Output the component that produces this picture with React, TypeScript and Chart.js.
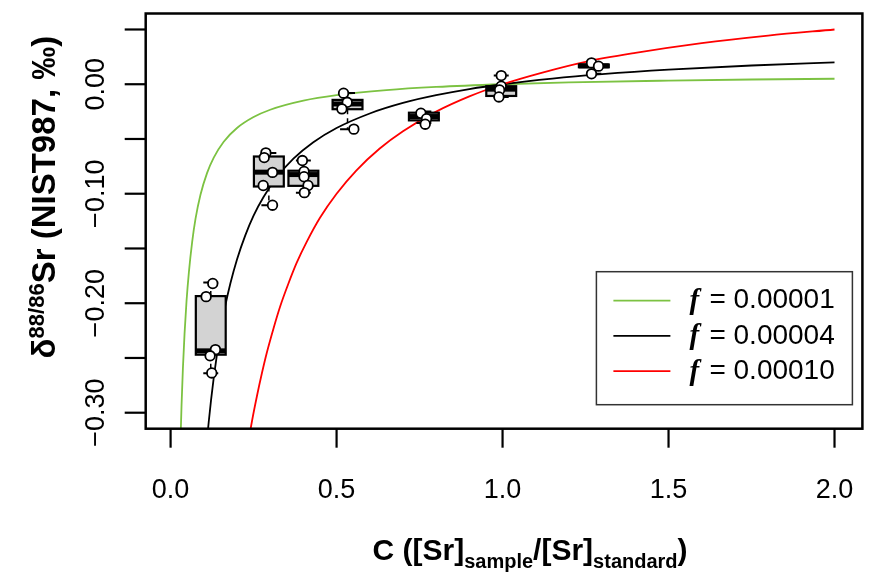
import React, { useEffect, useRef } from "react";
import { Chart, registerables } from "chart.js";

Chart.register(...registerables);

// ---- axis ticks ----
const xTicks = [0, 0.5, 1.0, 1.5, 2.0];
const xTickLabels = ["0.0", "0.5", "1.0", "1.5", "2.0"];
const yTicks = [0.05, 0.0, -0.05, -0.1, -0.15, -0.2, -0.25, -0.3];
const yTickLabels = ["", "0.00", "", "\u22120.10", "", "\u22120.20", "", "\u22120.30"];

// ---- mixing curves ----
const greenC = [0.029, 0.033, 0.037, 0.042, 0.048, 0.055, 0.065, 0.075, 0.09, 0.11, 0.13, 0.16, 0.2, 0.25, 0.3, 0.4, 0.5, 0.65, 0.8, 1.0, 1.2, 1.5, 1.75, 2.0];
const greenD = [-0.335, -0.293, -0.26, -0.228, -0.198, -0.172, -0.144, -0.123, -0.101, -0.081, -0.067, -0.0525, -0.04, -0.03, -0.0233, -0.015, -0.01, -0.0054, -0.0025, 0, 0.0017, 0.0033, 0.0043, 0.005];

const blackC = [0.108, 0.115, 0.122, 0.13, 0.14, 0.15, 0.165, 0.18, 0.2, 0.225, 0.25, 0.28, 0.32, 0.37, 0.43, 0.5, 0.6, 0.7, 0.8, 0.9, 1.0, 1.15, 1.3, 1.5, 1.75, 2.0];
const blackD = [-0.33, -0.308, -0.288, -0.268, -0.246, -0.227, -0.202, -0.182, -0.16, -0.138, -0.12, -0.103, -0.085, -0.068, -0.053, -0.04, -0.0267, -0.0171, -0.01, -0.0044, 0, 0.0052, 0.0092, 0.0133, 0.0171, 0.02];

const redC = [0.232, 0.245, 0.26, 0.275, 0.29, 0.31, 0.33, 0.355, 0.38, 0.41, 0.45, 0.5, 0.56, 0.63, 0.7, 0.8, 0.9, 1.0, 1.12, 1.25, 1.4, 1.6, 1.8, 2.0];
const redD = [-0.331, -0.308, -0.285, -0.264, -0.245, -0.223, -0.203, -0.182, -0.163, -0.144, -0.122, -0.1, -0.0786, -0.0587, -0.0429, -0.025, -0.0111, 0, 0.0107, 0.0205, 0.0286, 0.0375, 0.0444, 0.05];

const legendLabels = ["0.00001", "0.00004", "0.00010"];
const curveColors = ["#7cc242", "#000000", "#ff0000"];

// ---- boxplots ----
const boxC = [0.121, 0.296, 0.4, 0.533, 0.763, 0.996, 1.275];
const boxLo = [-0.264, -0.1105, -0.099, -0.041, -0.0355, -0.0116, 0.0095];
const boxQ1 = [-0.247, -0.0934, -0.0928, -0.0228, -0.033, -0.0107, 0.0155];
const boxMed = [-0.2435, -0.0803, -0.0825, -0.018, -0.0295, -0.0045, 0.0168];
const boxQ3 = [-0.1935, -0.066, -0.079, -0.0143, -0.026, -0.0018, 0.018];
const boxHi = [-0.181, -0.0627, -0.0697, -0.008, -0.025, 0.0079, 0.0195];
const boxWidth = 0.09;

// ---- individual measurements ----
const obsC = [
  0.127, 0.107, 0.135, 0.119, 0.124,
  0.287, 0.282, 0.307, 0.279, 0.307,
  0.397, 0.402, 0.402, 0.414, 0.403,
  0.521, 0.532, 0.516, 0.552,
  0.754, 0.771, 0.767,
  0.996, 0.996, 0.991, 0.989,
  1.268, 1.289, 1.268,
];
const obsD = [
  -0.182, -0.194, -0.2424, -0.248, -0.2637,
  -0.0627, -0.067, -0.0805, -0.0925, -0.1105,
  -0.0697, -0.0797, -0.0845, -0.0925, -0.099,
  -0.0082, -0.0165, -0.0225, -0.041,
  -0.0265, -0.0315, -0.0365,
  0.0079, -0.0018, -0.0052, -0.0116,
  0.0195, 0.0165, 0.0095,
];

const SANS = "'Liberation Sans', Arial, Helvetica, sans-serif";
const SERIF = "'Liberation Serif', 'Times New Roman', serif";

const zip = (a: number[], b: number[]) => a.map((v, i) => ({ x: v, y: b[i] }));

const boxPlugin = {
  id: "boxes",
  afterDatasetDraw(chart: any, args: any) {
    if (chart.data.datasets[args.index].label !== "f3") return;
    const { ctx, scales } = chart;
    const x = scales.x, y = scales.y;
    ctx.save();
    for (let i = 0; i < boxC.length; i++) {
      const l = x.getPixelForValue(boxC[i] - boxWidth / 2);
      const r = x.getPixelForValue(boxC[i] + boxWidth / 2);
      const c = x.getPixelForValue(boxC[i]);
      const sl = x.getPixelForValue(boxC[i] - boxWidth / 4);
      const sr = x.getPixelForValue(boxC[i] + boxWidth / 4);
      const q1 = y.getPixelForValue(boxQ1[i]);
      const q3 = y.getPixelForValue(boxQ3[i]);
      const md = y.getPixelForValue(boxMed[i]);
      const lo = y.getPixelForValue(boxLo[i]);
      const hi = y.getPixelForValue(boxHi[i]);
      ctx.strokeStyle = "#000";
      ctx.lineWidth = 1.5;
      ctx.setLineDash([5, 4]);
      ctx.beginPath();
      ctx.moveTo(c, q1); ctx.lineTo(c, lo);
      ctx.moveTo(c, q3); ctx.lineTo(c, hi);
      ctx.stroke();
      ctx.setLineDash([]);
      ctx.lineWidth = 2;
      ctx.beginPath();
      ctx.moveTo(sl, lo); ctx.lineTo(sr, lo);
      ctx.moveTo(sl, hi); ctx.lineTo(sr, hi);
      ctx.stroke();
      ctx.fillStyle = "#d3d3d3";
      ctx.fillRect(l, q3, r - l, q1 - q3);
      ctx.lineWidth = 2.2;
      ctx.strokeRect(l, q3, r - l, q1 - q3);
      ctx.lineWidth = 5;
      ctx.beginPath();
      ctx.moveTo(l, md); ctx.lineTo(r, md);
      ctx.stroke();
    }
    ctx.restore();
  },
};

const axesPlugin = {
  id: "rAxes",
  afterDraw(chart: any) {
    const { ctx, chartArea: a, scales } = chart;
    const x = scales.x, y = scales.y;
    ctx.save();
    ctx.strokeStyle = "#000";
    ctx.fillStyle = "#000";
    ctx.lineWidth = 2.5;
    ctx.strokeRect(a.left, a.top, a.right - a.left, a.bottom - a.top);
    ctx.lineWidth = 2.2;
    ctx.font = `27px ${SANS}`;
    ctx.textAlign = "center";
    ctx.textBaseline = "middle";
    xTicks.forEach((v, i) => {
      const px = x.getPixelForValue(v);
      ctx.beginPath();
      ctx.moveTo(px, a.bottom);
      ctx.lineTo(px, a.bottom + 19);
      ctx.stroke();
      ctx.fillText(xTickLabels[i], px, a.bottom + 62);
    });
    yTicks.forEach((v, i) => {
      const py = y.getPixelForValue(v);
      ctx.beginPath();
      ctx.moveTo(a.left, py);
      ctx.lineTo(a.left - 21, py);
      ctx.stroke();
      if (yTickLabels[i]) {
        ctx.save();
        ctx.translate(a.left - 49, py);
        ctx.rotate(-Math.PI / 2);
        ctx.fillText(yTickLabels[i], 0, 0);
        ctx.restore();
      }
    });
    // x title
    const parts: [string, boolean][] = [["C ([Sr]", false], ["sample", true], ["/[Sr]", false], ["standard", true], [")", false]];
    const bigX = `bold 30px ${SANS}`;
    const smallX = `bold 20px ${SANS}`;
    let total = 0;
    parts.forEach(([t, sub]) => { ctx.font = sub ? smallX : bigX; total += ctx.measureText(t).width; });
    let cx = (a.left + a.right) / 2 + 26 - total / 2;
    const base = a.bottom + 131;
    ctx.textAlign = "left";
    ctx.textBaseline = "alphabetic";
    parts.forEach(([t, sub]) => {
      ctx.font = sub ? smallX : bigX;
      ctx.fillText(t, cx, sub ? base + 8 : base);
      cx += ctx.measureText(t).width;
    });
    // y title
    const bigY = `bold 33px ${SANS}`;
    const smallY = `bold 22px ${SANS}`;
    const yparts: [string, boolean][] = [["\u03b4", false], ["88/86", true], ["Sr (NIST987, \u2030)", false]];
    let ytot = 0;
    yparts.forEach(([t, sup]) => { ctx.font = sup ? smallY : bigY; ytot += ctx.measureText(t).width; });
    ctx.save();
    ctx.translate(a.left - 91, (a.top + a.bottom) / 2 - 24);
    ctx.rotate(-Math.PI / 2);
    let yx = -ytot / 2;
    yparts.forEach(([t, sup]) => {
      ctx.font = sup ? smallY : bigY;
      ctx.fillText(t, yx, sup ? -11 : 0);
      yx += ctx.measureText(t).width;
    });
    ctx.restore();

    // legend
    const lx0 = a.right - 266, ly0 = a.bottom - 157, lw = 256, lh = 133;
    ctx.fillStyle = "#fff";
    ctx.fillRect(lx0, ly0, lw, lh);
    ctx.strokeStyle = "#333";
    ctx.lineWidth = 1.5;
    ctx.strokeRect(lx0, ly0, lw, lh);
    legendLabels.forEach((lab, i) => {
      const ly = ly0 + 29 + i * 35.2;
      ctx.strokeStyle = curveColors[i];
      ctx.lineWidth = 1.8;
      ctx.beginPath();
      ctx.moveTo(lx0 + 17, ly);
      ctx.lineTo(lx0 + 74, ly);
      ctx.stroke();
      ctx.fillStyle = "#000";
      ctx.textBaseline = "middle";
      ctx.font = `italic bold 29px ${SERIF}`;
      ctx.fillText("f", lx0 + 93, ly + 1);
      ctx.font = `28px ${SANS}`;
      ctx.fillText("= " + lab, lx0 + 113, ly);
    });
    ctx.restore();
  },
};

export default function App() {
  const ref = useRef<HTMLCanvasElement | null>(null);
  useEffect(() => {
    document.body.style.margin = "0";
    if (!ref.current) return;
    const chart = new Chart(ref.current, {
      type: "scatter",
      data: {
        datasets: [
          {
            label: "obs",
            data: zip(obsC, obsD),
            order: 0,
            pointRadius: 4.8,
            pointBackgroundColor: "#ffffff",
            pointBorderColor: "#000000",
            pointBorderWidth: 1.8,
            showLine: false,
          },
          {
            label: "f3",
            data: zip(redC, redD),
            order: 1,
            showLine: true,
            borderColor: curveColors[2],
            borderWidth: 1.8,
            pointRadius: 0,
            cubicInterpolationMode: "monotone",
          },
          {
            label: "f2",
            data: zip(blackC, blackD),
            order: 2,
            showLine: true,
            borderColor: curveColors[1],
            borderWidth: 1.8,
            pointRadius: 0,
            cubicInterpolationMode: "monotone",
          },
          {
            label: "f1",
            data: zip(greenC, greenD),
            order: 3,
            showLine: true,
            borderColor: curveColors[0],
            borderWidth: 1.8,
            pointRadius: 0,
            cubicInterpolationMode: "monotone",
          },
        ],
      },
      options: {
        animation: false,
        responsive: false,
        devicePixelRatio: 1,
        layout: { padding: { left: 145.7, right: 1.7, top: 13.5, bottom: 149.3 } },
        plugins: { legend: { display: false }, tooltip: { enabled: false } },
        scales: {
          x: { type: "linear", min: -0.075, max: 2.084, display: false },
          y: { type: "linear", min: -0.3146, max: 0.0646, display: false },
        },
      },
      plugins: [boxPlugin, axesPlugin],
    } as any);
    return () => chart.destroy();
  }, []);
  return (
    <div style={{ width: 869, height: 578, background: "#fff" }}>
      <canvas ref={ref} width={869} height={578} />
    </div>
  );
}
